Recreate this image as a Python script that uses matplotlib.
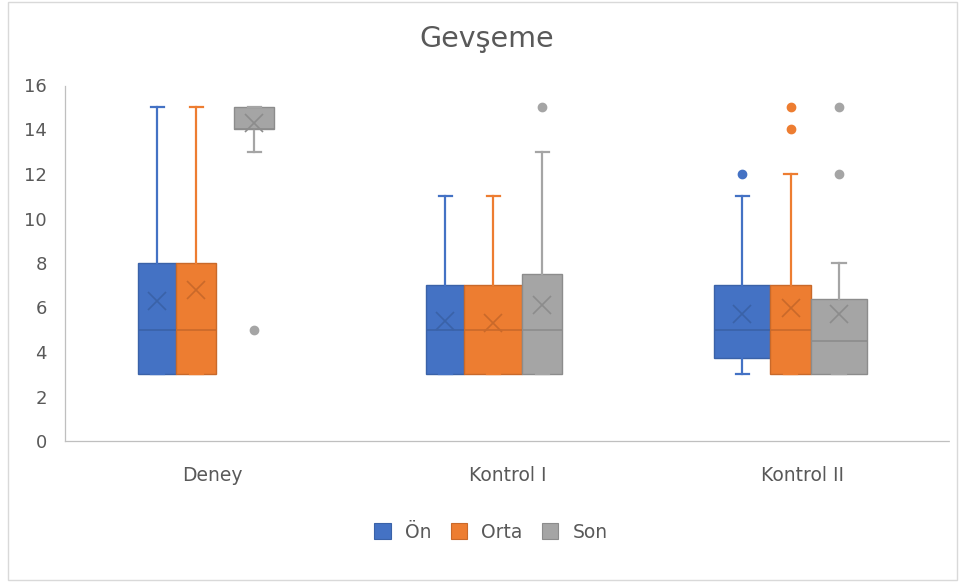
import matplotlib
matplotlib.use("Agg")
import matplotlib.pyplot as plt
from matplotlib.patches import Rectangle, Patch

plt.rcParams['font.family'] = ['DejaVu Sans']

# ---- data -------------------------------------------------------------
categories = ["Deney", "Kontrol I", "Kontrol II"]
series = ["Ön", "Orta", "Son"]

on_whislo = [3, 3, 3]
on_q1 = [3, 3, 3.75]
on_med = [5, 5, 5]
on_q3 = [8, 7, 7]
on_whishi = [15, 11, 11]
on_mean = [6.3, 5.4, 5.7]
on_fliers = [[], [], [12]]

orta_whislo = [3, 3, 3]
orta_q1 = [3, 3, 3]
orta_med = [5, 5, 5]
orta_q3 = [8, 7, 7]
orta_whishi = [15, 11, 12]
orta_mean = [6.8, 5.3, 6.0]
orta_fliers = [[], [], [14, 15]]

son_whislo = [13, 3, 3]
son_q1 = [14, 3, 3]
son_med = [14, 5, 4.5]
son_q3 = [15, 7.5, 6.4]
son_whishi = [15, 13, 8]
son_mean = [14.3, 6.1, 5.7]
son_fliers = [[5], [15], [12, 15]]

y_ticks = [0, 2, 4, 6, 8, 10, 12, 14, 16]

# ---- layout / style ---------------------------------------------------
CAT_PX = 295.0  # pixel width of one category band
box_offset_px = {"Ön": [-55.5, -62.5, -60.5],
                 "Orta": [-16.5, -14.5, -12.0],
                 "Son": [41.5, 34.5, 36.5]}
box_width_px = {"Ön": [38, 38, 56],
                "Orta": [40, 58, 41],
                "Son": [40, 40, 56]}
fill = {"Ön": "#4472C4", "Orta": "#ED7D31", "Son": "#A5A5A5"}
dark = {"Ön": "#3A62A8", "Orta": "#C9692A", "Son": "#8C8C8C"}
text_col = "#595959"

stats_by_series = {
    "Ön": (on_whislo, on_q1, on_med, on_q3, on_whishi, on_mean, on_fliers),
    "Orta": (orta_whislo, orta_q1, orta_med, orta_q3, orta_whishi, orta_mean, orta_fliers),
    "Son": (son_whislo, son_q1, son_med, son_q3, son_whishi, son_mean, son_fliers),
}

fig = plt.figure(figsize=(9.6, 5.82), dpi=100)
ax = fig.add_axes([65 / 960, (582 - 441) / 582, (950 - 65) / 960, (441 - 85) / 582])

for name in series:
    wl, q1, med, q3, wh, mean, fl = stats_by_series[name]
    stats = []
    for g in range(len(categories)):
        stats.append(dict(whislo=wl[g], q1=q1[g], med=med[g], q3=q3[g],
                          whishi=wh[g], mean=mean[g], fliers=fl[g]))
    pos = [g + box_offset_px[name][g] / CAT_PX for g in range(len(categories))]
    wid = [w / CAT_PX for w in box_width_px[name]]
    ax.bxp(stats, positions=pos, widths=wid, capwidths=13 / CAT_PX,
           patch_artist=True, showmeans=True, manage_ticks=False,
           boxprops=dict(facecolor=fill[name], edgecolor=dark[name], linewidth=1.0),
           medianprops=dict(color=dark[name], linewidth=1.2),
           whiskerprops=dict(color=fill[name], linewidth=1.6),
           capprops=dict(color=fill[name], linewidth=1.6),
           meanprops=dict(marker='x', markersize=13, markeredgewidth=1.2,
                          markeredgecolor=dark[name], markerfacecolor='none'),
           flierprops=dict(marker='o', markersize=6, markerfacecolor=fill[name],
                           markeredgecolor=fill[name]),
           zorder=3)

ax.set_xlim(-0.5, 2.5)
ax.set_ylim(0, 16)
ax.set_yticks(y_ticks)
ax.set_yticklabels([str(t) for t in y_ticks])
ax.set_xticks(range(len(categories)))
ax.set_xticklabels(categories)
ax.tick_params(axis='both', length=0, colors=text_col)
ax.tick_params(axis='y', pad=13, labelsize=13)
ax.tick_params(axis='x', pad=18, labelsize=13.5)

for side in ("top", "right"):
    ax.spines[side].set_visible(False)
for side in ("left", "bottom"):
    ax.spines[side].set_color("#BFBFBF")
    ax.spines[side].set_linewidth(0.9)
    ax.spines[side].set_linestyle((0, (2, 1)))

fig.text(486.5 / 960, 1 - 47 / 582, "Gevşeme", ha='center', va='baseline',
         fontsize=20.5, color=text_col)

handles = [Patch(facecolor=fill[s], edgecolor=dark[s], linewidth=0.8) for s in series]
fig.legend(handles, series, loc='center', bbox_to_anchor=(491 / 960, 1 - 532 / 582),
           ncol=3, frameon=False, fontsize=13.5, labelcolor=text_col,
           handlelength=0.9, handleheight=0.9, handletextpad=0.75, columnspacing=1.0)

fig.patches.append(Rectangle((8 / 960, 2 / 582), 949 / 960, 578 / 582,
                             transform=fig.transFigure, fill=False,
                             edgecolor="#D9D9D9", linewidth=1.0))

fig.savefig("out.png", dpi=100)
